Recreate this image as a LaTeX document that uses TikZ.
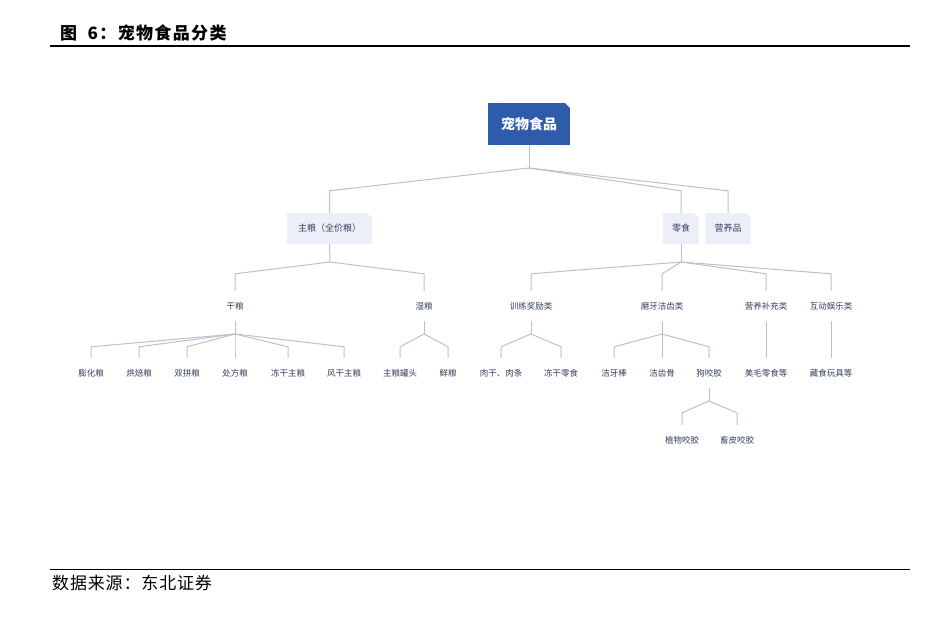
\documentclass[tikz,border=0pt]{standalone}
\usepackage{fontspec}
\newfontfamily\cjk{Noto Sans CJK SC}
\definecolor{rootblue}{HTML}{2F5BAD}
\definecolor{boxfill}{HTML}{EDEFF8}
\definecolor{linkgray}{HTML}{BAC1CE}
\definecolor{labeltext}{HTML}{33405C}
\tikzset{
  cutbox/.style={rectangle, inner sep=0pt, fill=boxfill, minimum height=31pt,
    font=\cjk\fontsize{9}{9}\selectfont, text=labeltext,
    path picture={\fill[white] (path picture bounding box.north east) -- ++(-5pt,0pt) -- ++(5pt,-5pt) -- cycle;}},
  leaf/.style={inner sep=0pt, minimum height=30pt, font=\cjk\fontsize{8.5}{8.5}\selectfont, text=labeltext},
  link/.style={draw=linkgray, line width=1pt},
}
\begin{document}
\begin{tikzpicture}[x=1pt, y=-1pt]
  \useasboundingbox[fill=white] (0,0) rectangle (941,620);
  % title and rules
  \node[anchor=west, inner sep=0pt, font=\cjk\bfseries\fontsize{17}{17}\selectfont\addfontfeature{LetterSpace=8}] (title) at (60,33) {图\ \ 6：宠物食品分类};
  \draw[line width=1.8pt] (50,46) -- (910,46);
  \draw[line width=0.8pt] (50,569) -- (910,569);
  \node[anchor=west, inner sep=0pt, font=\cjk\fontsize{17}{17}\selectfont\addfontfeature{LetterSpace=5}] (source) at (52,583) {数据来源：东北证券};

  % boxes
  \node[cutbox, fill=rootblue, minimum width=82pt, minimum height=42pt, text=white,
    font=\cjk\bfseries\fontsize{14}{14}\selectfont] (root) at (529,124) {宠物食品};
  \node[cutbox, minimum width=85pt] (zl) at (329.5,228.5) {主粮（全价粮）};
  \node[cutbox, minimum width=36pt] (ls) at (681,228.5) {零食};
  \node[cutbox, minimum width=46pt] (yy) at (728,228.5) {营养品};

  % second level
  \node[leaf] (gl) at (235,306) {干粮};
  \node[leaf] (sl) at (424,306) {湿粮};
  \node[leaf] (xl) at (531,306) {训练奖励类};
  \node[leaf] (my) at (662,306) {磨牙洁齿类};
  \node[leaf] (bc) at (766,306) {营养补充类};
  \node[leaf] (hd) at (831,306) {互动娱乐类};

  % third level
  \node[leaf] (ph) at (91,373) {膨化粮};
  \node[leaf] (hb) at (139,373) {烘焙粮};
  \node[leaf] (sp) at (187,373) {双拼粮};
  \node[leaf] (cf) at (235,373) {处方粮};
  \node[leaf] (dg) at (288,373) {冻干主粮};
  \node[leaf] (fg) at (344,373) {风干主粮};
  \node[leaf] (gt) at (400,373) {主粮罐头};
  \node[leaf] (xn) at (448,373) {鲜粮};
  \node[leaf] (rg) at (501,373) {肉干、肉条};
  \node[leaf] (dl) at (561,373) {冻干零食};
  \node[leaf] (jy) at (614,373) {洁牙棒};
  \node[leaf] (jc) at (662,373) {洁齿骨};
  \node[leaf] (gy) at (709,373) {狗咬胶};
  \node[leaf] (mm) at (766,373) {美毛零食等};
  \node[leaf] (cs) at (831,373) {藏食玩具等};
  \node[leaf] (zw) at (682,440) {植物咬胶};
  \node[leaf] (xp) at (737,440) {畜皮咬胶};

  % connectors
  \coordinate (j0) at (529,168);
  \draw[link] (root.south) -- (j0);
  \foreach \c in {zl,ls,yy}
    \draw[link] (j0) -- ([yshift=22pt]\c.north) -- (\c.north);
  \coordinate (j1) at (330,262);
  \draw[link] (zl.south) -- (j1);
  \foreach \c in {gl,sl}
    \draw[link] (j1) -- ([yshift=17pt]\c.north) -- (\c.north);
  \coordinate (j2) at (681,262);
  \draw[link] (ls.south) -- (j2);
  \foreach \c in {xl,my,bc,hd}
    \draw[link] (j2) -- ([yshift=17pt]\c.north) -- (\c.north);
  \coordinate (j3) at (235,334);
  \draw[link] (gl.south) -- (j3);
  \foreach \c in {ph,hb,sp,cf,dg,fg}
    \draw[link] (j3) -- ([yshift=11pt]\c.north) -- (\c.north);
  \coordinate (j4) at (424,334);
  \draw[link] (sl.south) -- (j4);
  \foreach \c in {gt,xn}
    \draw[link] (j4) -- ([yshift=11pt]\c.north) -- (\c.north);
  \coordinate (j5) at (531,334);
  \draw[link] (xl.south) -- (j5);
  \foreach \c in {rg,dl}
    \draw[link] (j5) -- ([yshift=11pt]\c.north) -- (\c.north);
  \coordinate (j6) at (662,334);
  \draw[link] (my.south) -- (j6);
  \foreach \c in {jy,jc,gy}
    \draw[link] (j6) -- ([yshift=11pt]\c.north) -- (\c.north);
  \draw[link] (bc.south) -- (mm.north);
  \draw[link] (hd.south) -- (cs.north);
  \coordinate (j7) at (709,401);
  \draw[link] (gy.south) -- (j7);
  \foreach \c in {zw,xp}
    \draw[link] (j7) -- ([yshift=12pt]\c.north) -- (\c.north);
\end{tikzpicture}
\end{document}
